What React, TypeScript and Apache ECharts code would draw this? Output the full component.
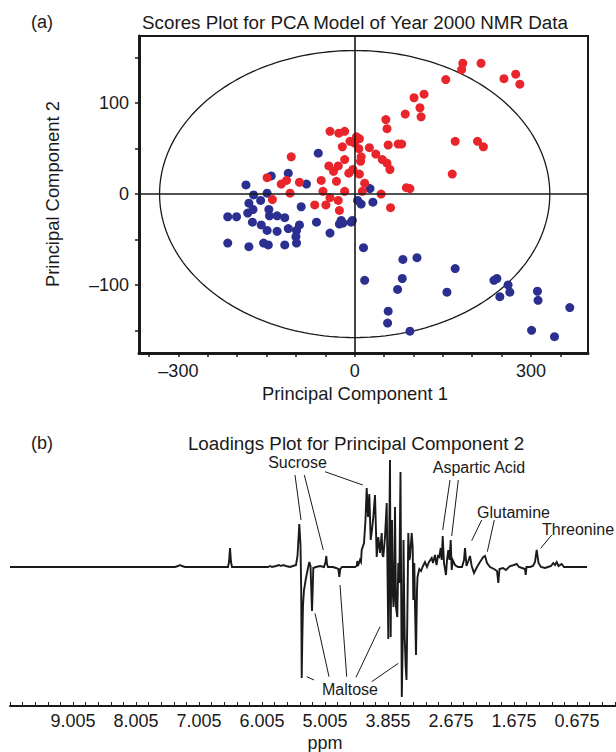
import React, { useEffect, useRef } from "react";
import * as echarts from "echarts";

// ---------- Panel (a): PCA scores ----------
const RED_PC1 = [-108, -149, -125, -116, -110, -140, -94, -42, -27, -17, 3, 8, -8, 0, -21, 7, 25, 53, 55, 57, 74, 80, 36, 47, 55, 60, 11, 10, -17, -44, -28, -36, -3, -10, 8, 17, -57, -31, -54, -17, 13, 45, -42, -28, -68, -49, -26, 61, 184, 182, 215, 155, 254, 274, 281, 101, 118, 111, 113, 86, 171, 209, 219, 166, 88, 94];
const RED_PC2 = [41, 18, 11, 15, 1, -6, 13, 69, 67, 69, 63, 61, 58, 56, 52, 50, 51, 82, 72, 54, 55, 55, 44, 38, 34, 27, 41, 36, 38, 31, 31, 25, 27, 23, 22, 12, 15, 14, 3, 3, 3, 0, -4, -7, -12, -12, -18, -15, 144, 137, 144, 126, 127, 132, 121, 106, 110, 95, 85, 88, 58, 58, 52, 22, 7, 6];

const BLUE_PC1 = [-185, -142, -113, -172, -149, -160, -180, -173, -182, -216, -201, -146, -145, -132, -119, -174, -159, -149, -132, -113, -216, -180, -155, -147, -119, -99, -100, -99, -94, -91, -65, -42, -26, -23, -6, -4, 5, 11, 31, 26, -62, -82, 15, 82, 106, 171, 17, 81, 73, 157, 237, 242, 261, 264, 247, 311, 312, 366, 57, 56, 94, 301, 340, -20];
const BLUE_PC2 = [10, 20, 23, -1, 1, -7, -10, -17, -21, -25, -25, -17, -24, -24, -26, -31, -34, -40, -41, -38, -54, -58, -54, -56, -56, -40, -47, -54, -34, -14, -31, -43, -33, -29, -31, -29, -7, -11, -9, 6, 45, 11, -59, -72, -70, -82, -95, -93, -105, -108, -95, -93, -100, -108, -113, -107, -117, -125, -129, -142, -151, -150, -157, -32];

const PC1_TICK_LABELS = [-300, 0, 300];
const PC2_TICK_LABELS = [-100, 0, 100];
const ELLIPSE_SEMI_PC1 = 332;
const ELLIPSE_SEMI_PC2 = 158;

// ---------- Panel (b): loadings spectrum (x = spectral bin, y = loading x1000) ----------
const SPEC_BIN = [0, 165, 168, 170, 172, 175, 218, 219, 220, 221, 222, 258, 260, 262, 266, 269, 271, 273, 276, 280, 283, 286, 287.5, 289.3, 290.5, 291.2, 291.7, 292.3, 293, 294, 296, 298, 299.3, 300.5, 301.3, 302, 302.7, 303.3, 306, 310, 314, 315.5, 316.3, 317, 318, 323, 326, 328.3, 329.3, 330.3, 332, 345, 346.7, 347.3, 348, 350, 351, 351.7, 354, 355.5, 356.7, 358, 359.3, 360.7, 362, 363.3, 365, 366.7, 368.3, 370, 371.7, 372.5, 373.3, 375, 376.7, 377.7, 378.3, 378.9, 380, 380.7, 381.3, 382, 382.7, 383.5, 384, 385, 386, 386.6, 387.3, 388.3, 389.3, 390.5, 391.8, 393, 393.5, 394.2, 394.7, 395.7, 396.5, 397.3, 398.3, 399.3, 400, 401.7, 402.7, 403.3, 404.3, 405, 406, 407, 407.5, 409.3, 411, 413, 415, 417, 419, 421.7, 423, 425, 426.5, 428, 429.3, 430.7, 431.7, 432.7, 434, 436, 437, 438.3, 439.5, 440.7, 441.7, 442.7, 445, 448, 452, 454, 455, 456.5, 458, 460, 461.7, 464, 467, 470, 473.3, 475, 477, 480, 484, 487, 488.3, 489.5, 493, 496, 500, 504, 506.7, 509, 512, 515, 515.7, 516.5, 520, 523, 525, 526.7, 528.5, 531, 535, 538, 541, 543.3, 545, 546.7, 548.5, 551.7, 554, 558, 577];
const SPEC_LOADING = [0, 0, 1, 2, 1, 0, 0, 5, 19, 5, 0, 0, 1, 0, 1, 2, 1, 2, 1, 0, 1, 2, 11, 43, 22, -23, -111, -73, -38, -23, -11, -1, 5, 1, -23, -44, -23, -1, 0, 1, 0, 5, 11, 3, 0, 0, -1, -2, -10, -2, 0, 0, 1, 6, 1, 7, 5, 17, 24, 47, 79, 50, 73, 27, 37, 50, 72, 10, 30, 14, 34, 12, 10, 30, 64, -23, -72, -3, 107, -70, 7, 47, -23, -40, -33, 60, -40, -45, -50, 4, -16, 95, -130, -60, 27, -33, -70, -100, -113, -53, 34, 7, 10, 34, 20, -33, 4, -40, -88, -23, -10, -2, -4, 1, 5, 0, 5, 9, 4, 12, 2, 11, 10, 19, 7, 31, 4, -8, 7, 17, 7, 27, -3, 7, 2, 0, 0, 7, 19, 1, 5, 11, 1, -6, 0, 5, 10, 11, 4, 0, -2, -4, -16, -2, -1, -3, 1, 2, 3, 0, -1, -2, -8, 0, 0, 1, 5, 17, 4, 0, -1, 0, 1, 4, 2, 5, 1, 3, 0, 0, 0];
const PPM_LABELS = ["9.005", "8.005", "7.005", "6.005", "5.005", "3.855", "2.675", "1.675", "0.675"];
const BINS_PER_LABEL = 63;
const BINS_PER_TICK = 12.6;

// annotation leader lines: [bin1, loading1, bin2, loading2]
const ANNOT_LINES = [
  [285, 92, 291, 47], [294.3, 92, 313.3, 17], [315, 95.3, 352.7, 82],
  [296.7, -109.7, 304, -113], [305, -46.3, 319, -109.7], [330, -18, 336.7, -109.7],
  [370, -59.7, 346, -110.3], [388.3, -96.3, 361.7, -114.7],
  [440, 87, 432.7, 37], [448.3, 87, 441.7, 31],
  [471.7, 47, 461.7, 26.3], [484.3, 47, 477.3, 15.3],
  [541.7, 32, 530.7, 18.7],
];
const ANNOT_NAMES = ["Sucrose", "Maltose", "Aspartic Acid", "Glutamine", "Threonine"];
const ANNOT_BIN = [287.5, 340, 469, 503.5, 568];
const ANNOT_LOADING = [104.5, -122, 99.5, 54.5, 38];

const FONT = "'Liberation Sans', Arial, Helvetica, sans-serif";
const INK = "#1a1a1a";
const RED = "#e9242a";
const BLUE = "#2b2f8f";

const dash = (v: number) => String(v).replace("-", "\u2013");

function range(a: number, b: number, step: number) {
  const out: number[] = [];
  for (let i = 0; a + i * step <= b + 1e-9; i++) out.push(+(a + i * step).toFixed(3));
  return out;
}

export default function App() {
  const ref = useRef<HTMLDivElement>(null);
  useEffect(() => {
    if (!ref.current) return;
    const chart = echarts.init(ref.current, undefined, { renderer: "svg" });

    const ellipse: number[][] = [];
    for (let i = 0; i <= 240; i++) {
      const t = (i / 240) * Math.PI * 2;
      ellipse.push([ELLIPSE_SEMI_PC1 * Math.cos(t), ELLIPSE_SEMI_PC2 * Math.sin(t)]);
    }

    const txt = (text: string, x: number, y: number, size = 18, extra: any = {}) => ({
      type: "text",
      x,
      y,
      ...extra,
      style: { text, fontSize: size, fontFamily: FONT, fill: INK, textAlign: "center", textVerticalAlign: "middle" },
    });

    chart.setOption({
      animation: false,
      backgroundColor: "#ffffff",
      grid: [
        { left: 139, top: 36, width: 449, height: 317, show: true, borderColor: INK, borderWidth: 2, backgroundColor: "transparent" },
        { left: 10, top: 450, width: 606, height: 256, show: false },
      ],
      xAxis: [
        {
          gridIndex: 0, type: "value", min: -367, max: 397,
          axisLine: { show: true, onZero: false, lineStyle: { color: INK, width: 3 } },
          axisTick: { show: true, customValues: range(-350, 350, 50), length: 4, lineStyle: { color: INK, width: 1.5 } },
          axisLabel: { customValues: PC1_TICK_LABELS, formatter: (v: number) => dash(v), fontSize: 18, color: INK, fontFamily: FONT, margin: 9 },
          splitLine: { show: false },
        },
        {
          gridIndex: 1, type: "value", min: 0, max: 606,
          axisLine: { show: true, onZero: false, lineStyle: { color: INK, width: 2 } },
          axisTick: { show: true, inside: true, customValues: range(0, 606, BINS_PER_TICK), length: 4, lineStyle: { color: INK, width: 1 } },
          axisLabel: {
            customValues: PPM_LABELS.map((_, i) => (i + 1) * BINS_PER_LABEL),
            formatter: (v: number) => PPM_LABELS[Math.round(v / BINS_PER_LABEL) - 1] ?? "",
            fontSize: 18, color: INK, fontFamily: FONT, margin: 6,
          },
          splitLine: { show: false },
        },
      ],
      yAxis: [
        {
          gridIndex: 0, type: "value", min: -175, max: 174,
          axisLine: { show: true, onZero: false, lineStyle: { color: INK, width: 3 } },
          axisTick: { show: true, customValues: range(-150, 150, 50), length: 4, lineStyle: { color: INK, width: 1.5 } },
          axisLabel: { customValues: PC2_TICK_LABELS, formatter: (v: number) => dash(v), fontSize: 18, color: INK, fontFamily: FONT, margin: 10 },
          splitLine: { show: false },
        },
        { gridIndex: 1, type: "value", min: -139, max: 117, show: false, splitLine: { show: false } },
      ],
      series: [
        {
          type: "line", xAxisIndex: 0, yAxisIndex: 0, data: ellipse, showSymbol: false, silent: true, z: 1,
          lineStyle: { color: INK, width: 1.3 },
          markLine: {
            silent: true, symbol: ["none", "none"], label: { show: false },
            lineStyle: { color: INK, width: 1.6, type: "solid" },
            data: [{ xAxis: 0 }, { yAxis: 0 }],
          },
        },
        {
          type: "scatter", xAxisIndex: 0, yAxisIndex: 0, symbolSize: 9, z: 3,
          itemStyle: { color: BLUE, opacity: 1 },
          data: BLUE_PC1.map((x, i) => [x, BLUE_PC2[i]]),
        },
        {
          type: "scatter", xAxisIndex: 0, yAxisIndex: 0, symbolSize: 9, z: 4,
          itemStyle: { color: RED, opacity: 1 },
          data: RED_PC1.map((x, i) => [x, RED_PC2[i]]),
        },
        {
          type: "line", xAxisIndex: 1, yAxisIndex: 1, showSymbol: false, silent: true,
          lineStyle: { color: INK, width: 1.9, join: "miter" },
          data: SPEC_BIN.map((x, i) => [x, SPEC_LOADING[i]]),
          markLine: {
            silent: true, symbol: ["none", "none"], label: { show: false },
            lineStyle: { color: INK, width: 1, type: "solid" },
            data: ANNOT_LINES.map((s) => [{ coord: [s[0], s[1]] }, { coord: [s[2], s[3]] }]),
          },
        },
        {
          type: "scatter", xAxisIndex: 1, yAxisIndex: 1, symbolSize: 1, silent: true,
          itemStyle: { color: "rgba(0,0,0,0)", opacity: 1 },
          label: { show: true, position: "inside", formatter: "{b}", fontSize: 16, color: INK, fontFamily: FONT, opacity: 1 },
          data: ANNOT_NAMES.map((n, i) => ({ name: n, value: [ANNOT_BIN[i], ANNOT_LOADING[i]] })),
        },
      ],
      graphic: [
        txt("(a)", 42, 22),
        txt("Scores Plot for PCA Model of Year 2000 NMR Data", 355, 22, 18.8),
        txt("Principal Component 1", 355, 393, 18.4),
        txt("Principal Component 2", 52, 194, 18.4, { rotation: Math.PI / 2 }),
        txt("(b)", 42, 443),
        txt("Loadings Plot for Principal Component 2", 356, 443, 18.8),
        txt("ppm", 325, 743),
      ],
    });
    return () => chart.dispose();
  }, []);
  return <div ref={ref} style={{ position: "fixed", left: 0, top: 0, width: 616, height: 752, background: "#fff" }} />;
}
